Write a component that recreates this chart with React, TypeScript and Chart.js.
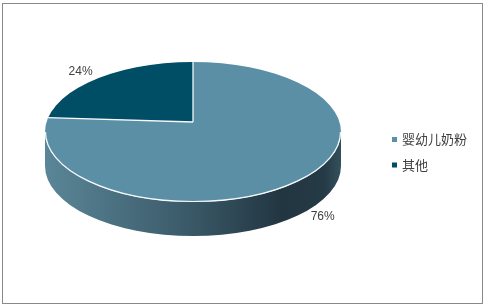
import React, { useEffect, useRef } from "react";
import { Chart, registerables } from "chart.js";

Chart.register(...registerables);

const categories = ["婴幼儿奶粉", "其他"];
const shares = [76, 24];
const sliceColors = ["#5B8FA6", "#004E66"];
const wallStops: [number, string][][] = [
  [
    [0, "#5a8697"],
    [0.45, "#3d5d6c"],
    [0.8, "#223641"],
    [0.94, "#243a45"],
    [1, "#34505d"],
  ],
  [
    [0, "#0b4a5e"],
    [1, "#002c3a"],
  ],
];

const TILT = 70 / 148;
const LIFT = 21;
const DEPTH = 34;
const APEX_RAISE = 10;

function geom(chart: any) {
  const meta = chart.getDatasetMeta(0);
  const { x, y, outerRadius } = meta.data[0].getProps(["x", "y", "outerRadius"], true);
  const R = outerRadius;
  return { meta, x, y, R, r: R * TILT, cy: y - LIFT, c0: y - LIFT - APEX_RAISE };
}

const pie3d = {
  id: "pie3d",
  beforeDraw(chart: any) {
    const ctx = chart.ctx;
    ctx.save();
    ctx.fillStyle = "#ffffff";
    ctx.fillRect(0, 0, chart.width, chart.height);
    ctx.strokeStyle = "#898989";
    ctx.lineWidth = 1;
    ctx.strokeRect(2.5, 3.5, 480, 300);
    ctx.restore();
  },
  beforeDatasetsDraw(chart: any) {
    const ctx = chart.ctx;
    const { meta, x, y, R, r, cy, c0 } = geom(chart);
    ctx.save();
    meta.data.forEach((arc: any, i: number) => {
      const p = arc.getProps(["startAngle", "endAngle"], true);
      const ranges = [
        [0, Math.PI],
        [2 * Math.PI, 3 * Math.PI],
        [-2 * Math.PI, -Math.PI],
      ];
      ranges.forEach(([lo, hi]) => {
        const a0 = Math.max(p.startAngle, lo);
        const a1 = Math.min(p.endAngle, hi);
        if (a1 <= a0) return;
        const g = ctx.createLinearGradient(x - R, 0, x + R, 0);
        wallStops[i % wallStops.length].forEach(([s, c]) => g.addColorStop(s, c));
        ctx.beginPath();
        ctx.ellipse(x, cy, R, r, 0, a0, a1, false);
        ctx.ellipse(x, cy + DEPTH, R, r, 0, a1, a0, true);
        ctx.closePath();
        ctx.fillStyle = g;
        ctx.fill();
      });
    });
    ctx.restore();
    ctx.save();
    ctx.beginPath();
    ctx.ellipse(x, cy, R, r, 0, 0, Math.PI * 2);
    ctx.clip();
    const s = (R + APEX_RAISE / TILT + 4) / R;
    ctx.translate(x, c0);
    ctx.scale(s, s * TILT);
    ctx.translate(-x, -y);
  },
  afterDatasetsDraw(chart: any) {
    const ctx = chart.ctx;
    ctx.restore();
    const { meta, x, R, r, cy, c0 } = geom(chart);
    ctx.save();
    ctx.strokeStyle = "rgba(255,255,255,0.95)";
    ctx.lineWidth = 1.2;
    ctx.beginPath();
    ctx.ellipse(x, cy, R - 0.5, r - 0.5, 0, 0, Math.PI, false);
    ctx.stroke();
    ctx.lineWidth = 1.3;
    const d = (c0 - cy) / TILT;
    meta.data.forEach((arc: any) => {
      const a = arc.getProps(["startAngle"], true).startAngle;
      const sn = Math.sin(a);
      const t = -sn * d + Math.sqrt(sn * sn * d * d - d * d + R * R);
      ctx.beginPath();
      ctx.moveTo(x, c0);
      ctx.lineTo(x + t * Math.cos(a), c0 + t * TILT * sn);
      ctx.stroke();
    });
    // percentage labels
    const total = shares.reduce((a, b) => a + b, 0);
    ctx.fillStyle = "#404040";
    ctx.font = '12px "Liberation Sans", Arial, sans-serif';
    ctx.textAlign = "center";
    ctx.textBaseline = "middle";
    meta.data.forEach((arc: any, i: number) => {
      const p = arc.getProps(["startAngle", "endAngle"], true);
      const mid = (p.startAngle + p.endAngle) / 2;
      const c = Math.cos(mid);
      const sn = Math.sin(mid);
      let lx: number, ly: number;
      if (sn > 0) {
        lx = x + c * R * 1.28;
        ly = cy + sn * r + DEPTH;
      } else {
        lx = x + c * R * 1.11;
        ly = cy + sn * r * 1.18;
      }
      const pct = Math.round((shares[i] / total) * 100) + "%";
      ctx.fillText(pct, lx, ly);
    });
    // legend
    ctx.textAlign = "left";
    ctx.font = '13px "Noto Sans CJK SC", sans-serif';
    categories.forEach((label, i) => {
      const ly = 139.5 + i * 25.5;
      ctx.fillStyle = sliceColors[i];
      ctx.fillRect(392, ly - 2.5, 5, 5);
      ctx.fillStyle = "#404040";
      ctx.fillText(label, 402, ly);
    });
    ctx.restore();
  },
};

export default function App() {
  const ref = useRef<HTMLCanvasElement>(null);
  useEffect(() => {
    document.body.style.margin = "0";
    const canvas = ref.current;
    if (!canvas) return;
    const chart = new Chart(canvas, {
      type: "pie",
      data: {
        labels: categories,
        datasets: [
          {
            data: shares,
            backgroundColor: sliceColors,
            borderWidth: 0,
          },
        ],
      },
      options: {
        responsive: false,
        animation: false,
        events: [],
        layout: { padding: { left: 45, right: 147, top: 5, bottom: 5 } },
        plugins: {
          legend: { display: false },
          tooltip: { enabled: false },
        },
      },
      plugins: [pie3d],
    });
    return () => chart.destroy();
  }, []);
  return (
    <div style={{ width: 488, height: 306 }}>
      <canvas ref={ref} width={488} height={306} style={{ display: "block" }} />
    </div>
  );
}
